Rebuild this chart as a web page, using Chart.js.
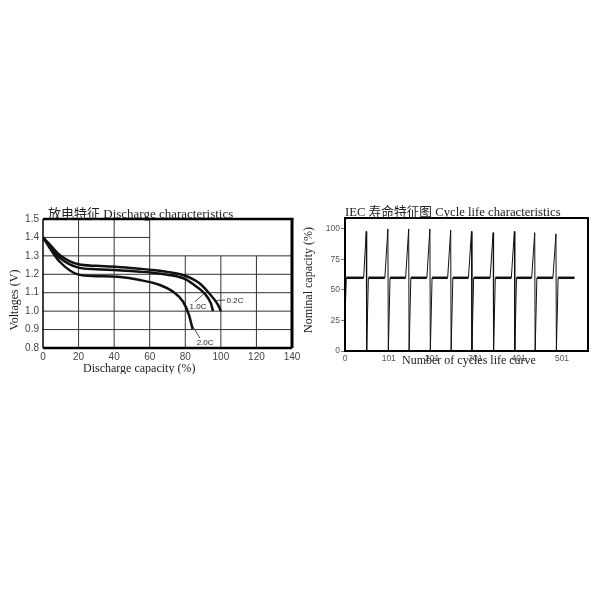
<!DOCTYPE html>
<html>
<head>
<meta charset="utf-8">
<script src="https://cdn.jsdelivr.net/npm/chart.js@4"></script>
<style>
  body { margin: 0; background: #fff; width: 600px; height: 600px; position: relative; overflow: hidden; }
  canvas { position: absolute; }
  #discharge-graph { left: 0; top: 195px; }
  #cycle-graph { left: 300px; top: 195px; }
</style>
</head>
<body>
<canvas id="discharge-graph" width="306" height="179"></canvas>
<canvas id="cycle-graph" width="300" height="185"></canvas>
<script>
// discharge curves (capacity %, voltage V)
const rate02Capacity = [0, 4, 9.4, 20, 30, 42, 54.5, 60, 70, 80, 88, 94, 98.5, 100];
const rate02Voltage = [1.40, 1.36, 1.305, 1.254, 1.246, 1.240, 1.230, 1.225, 1.213, 1.192, 1.151, 1.090, 1.033, 1.00];
const rate10Capacity = [0, 4, 9.4, 20, 30, 42, 54.5, 60, 70, 80, 85, 90.7, 94.4, 95.6];
const rate10Voltage = [1.40, 1.35, 1.29, 1.236, 1.227, 1.222, 1.214, 1.210, 1.198, 1.174, 1.142, 1.097, 1.042, 1.00];
const rate20Capacity = [0, 4, 9.4, 20, 30, 42, 54.5, 65.7, 73.2, 78.8, 82.1, 84.1];
const rate20Voltage = [1.40, 1.34, 1.268, 1.198, 1.190, 1.186, 1.169, 1.142, 1.105, 1.051, 0.979, 0.903];
const rateNames = ['0.2C', '1.0C', '2.0C'];
const capacityTicks = [0, 20, 40, 60, 80, 100, 120, 140];
const voltageTicks = [0.8, 0.9, 1.0, 1.1, 1.2, 1.3, 1.4, 1.5];

// cycle life curve (cycle number, nominal capacity %)
const cycleNumber = [0, 3, 43, 49, 50, 54, 92, 99, 100, 104, 140, 147, 148, 152,
    189, 196, 197, 201, 237, 244, 245, 249, 285, 292, 293, 297, 335, 342, 343, 347,
    384, 391, 392, 396, 431, 438, 439, 443, 480, 487, 488, 492, 530];
const cycleCapacity = [27, 60, 60, 98, 0, 60, 60, 100, 0, 60, 60, 100, 0, 60,
    60, 100, 0, 60, 60, 99, 0, 60, 60, 98, 0, 60, 60, 97, 0, 60,
    60, 98, 0, 60, 60, 97, 0, 60, 60, 96, 0, 60, 60];
const cycleTicks = [0, 101, 201, 301, 401, 501];
const capacityPctTicks = [0, 25, 50, 75, 100];

const serif = '"Liberation Serif", "Noto Sans CJK SC", serif';
const sans = '"Liberation Sans", Arial, sans-serif';

function toPoints(xs, ys) {
    return xs.map((x, i) => ({ x: x, y: ys[i] }));
}

function drawText(ctx, text, x, y, font, color, rotate) {
    ctx.save();
    ctx.font = font;
    ctx.fillStyle = color;
    ctx.textBaseline = 'alphabetic';
    if (rotate) {
        ctx.translate(x, y);
        ctx.rotate(-Math.PI / 2);
        ctx.textAlign = 'center';
        ctx.fillText(text, 0, 0);
    } else {
        ctx.textAlign = 'left';
        ctx.fillText(text, x, y);
    }
    ctx.restore();
}

function line(ctx, x1, y1, x2, y2) {
    ctx.beginPath();
    ctx.moveTo(x1, y1);
    ctx.lineTo(x2, y2);
    ctx.stroke();
}

const dischargeDecor = {
    id: 'dischargeDecor',
    beforeDatasetsDraw(chart) {
        const { ctx, scales: { x, y }, chartArea: a } = chart;
        ctx.save();
        ctx.strokeStyle = '#333';
        ctx.lineWidth = 1;
        // vertical grid: full for 20..60, from 1.3 down for 80..120
        [20, 40, 60].forEach(v => line(ctx, x.getPixelForValue(v), a.top, x.getPixelForValue(v), a.bottom));
        [80, 100, 120].forEach(v => line(ctx, x.getPixelForValue(v), y.getPixelForValue(1.3), x.getPixelForValue(v), a.bottom));
        // horizontal grid
        [0.9, 1.0, 1.1, 1.2, 1.3].forEach(v => line(ctx, a.left, y.getPixelForValue(v), a.right, y.getPixelForValue(v)));
        line(ctx, a.left, y.getPixelForValue(1.4), x.getPixelForValue(60), y.getPixelForValue(1.4));
        ctx.restore();
    },
    afterDraw(chart) {
        const { ctx, scales: { x, y }, chartArea: a } = chart;
        ctx.save();
        ctx.strokeStyle = '#000';
        ctx.lineWidth = 1.5;
        line(ctx, a.left, a.top, a.left, a.bottom);
        ctx.lineWidth = 2.5;
        line(ctx, a.left, a.bottom, a.right, a.bottom);
        line(ctx, a.left, a.top, a.right + 1.5, a.top);
        ctx.lineWidth = 3;
        line(ctx, a.right, a.top, a.right, a.bottom);
        // curve labels with leader lines
        ctx.lineWidth = 0.8;
        ctx.strokeStyle = '#222';
        line(ctx, x.getPixelForValue(97.5), y.getPixelForValue(1.058), x.getPixelForValue(102.5), y.getPixelForValue(1.060));
        line(ctx, x.getPixelForValue(85.4), y.getPixelForValue(1.051), x.getPixelForValue(90.1), y.getPixelForValue(1.091));
        line(ctx, x.getPixelForValue(84.4), y.getPixelForValue(0.915), x.getPixelForValue(88.2), y.getPixelForValue(0.854));
        const lf = '8px ' + sans;
        drawText(ctx, rateNames[0], x.getPixelForValue(103.2), y.getPixelForValue(1.044), lf, '#222');
        drawText(ctx, rateNames[1], x.getPixelForValue(82.4), y.getPixelForValue(1.014), lf, '#222');
        drawText(ctx, rateNames[2], x.getPixelForValue(86.4), y.getPixelForValue(0.817), lf, '#222');
        // titles
        drawText(ctx, '放电特征 Discharge characteristics', 48, 23, '13px ' + serif, '#222');
        drawText(ctx, 'Voltages (V)', 18, 105, '12px ' + serif, '#222', true);
        drawText(ctx, 'Discharge capacity (%)', 83, 177, '12px ' + serif, '#222');
        ctx.restore();
    }
};

const cycleDecor = {
    id: 'cycleDecor',
    afterDraw(chart) {
        const { ctx, chartArea: a } = chart;
        ctx.save();
        ctx.strokeStyle = '#000';
        ctx.lineWidth = 2;
        ctx.strokeRect(a.left, a.top, a.right - a.left, a.bottom - a.top);
        drawText(ctx, 'IEC 寿命特征图 Cycle life characteristics', 45, 21, '12.7px ' + serif, '#222');
        drawText(ctx, 'Nominal capacity (%)', 12, 85, '12px ' + serif, '#222', true);
        drawText(ctx, 'Number of cycles life curve', 102, 169, '12px ' + serif, '#222');
        ctx.restore();
    }
};

function curve(label, xs, ys) {
    return {
        label: label,
        data: toPoints(xs, ys),
        borderColor: '#111',
        borderWidth: 2.5,
        pointRadius: 0,
        fill: false,
        tension: 0.4,
        cubicInterpolationMode: 'monotone'
    };
}

function renderDischargeGraph() {
    const ctx = document.getElementById('discharge-graph').getContext('2d');
    new Chart(ctx, {
        type: 'line',
        data: {
            datasets: [
                curve(rateNames[0], rate02Capacity, rate02Voltage),
                curve(rateNames[1], rate10Capacity, rate10Voltage),
                curve(rateNames[2], rate20Capacity, rate20Voltage)
            ]
        },
        options: {
            responsive: false,
            animation: false,
            layout: { padding: { left: 0, right: 14, top: 24, bottom: 0 } },
            plugins: { legend: { display: false }, tooltip: { enabled: false } },
            scales: {
                x: {
                    type: 'linear', min: 0, max: 140,
                    afterBuildTicks: axis => { axis.ticks = capacityTicks.map(v => ({ value: v })); },
                    afterFit: axis => { axis.height = 26; },
                    grid: { display: false, drawTicks: false },
                    border: { display: false },
                    ticks: { font: { family: sans, size: 10 }, color: '#444', padding: 3, maxRotation: 0 }
                },
                y: {
                    type: 'linear', min: 0.8, max: 1.5,
                    afterBuildTicks: axis => { axis.ticks = voltageTicks.map(v => ({ value: v })); },
                    afterFit: axis => { axis.width = 43; },
                    grid: { display: false, drawTicks: false },
                    border: { display: false },
                    ticks: {
                        font: { family: sans, size: 10 }, color: '#444', padding: 4,
                        callback: v => v.toFixed(1)
                    }
                }
            }
        },
        plugins: [dischargeDecor]
    });
}

function renderCycleGraph() {
    const ctx = document.getElementById('cycle-graph').getContext('2d');
    new Chart(ctx, {
        type: 'line',
        data: {
            datasets: [{
                label: 'Nominal capacity',
                data: toPoints(cycleNumber, cycleCapacity),
                borderColor: '#111',
                borderWidth: 1,
                pointRadius: 0,
                fill: false,
                segment: {
                    borderWidth: c => (c.p0.parsed.y === 60 && c.p1.parsed.y === 60) ? 2.5 : 1
                }
            }]
        },
        options: {
            responsive: false,
            animation: false,
            layout: { padding: { left: 0, right: 12, top: 23, bottom: 0 } },
            plugins: { legend: { display: false }, tooltip: { enabled: false } },
            scales: {
                x: {
                    type: 'linear', min: 0, max: 561,
                    afterBuildTicks: axis => { axis.ticks = cycleTicks.map(v => ({ value: v })); },
                    afterFit: axis => { axis.height = 29; },
                    grid: { display: false, drawTicks: false },
                    border: { display: false },
                    ticks: { font: { family: sans, size: 8.5 }, color: '#555', padding: 3, maxRotation: 0 }
                },
                y: {
                    type: 'linear', min: 0, max: 109,
                    afterBuildTicks: axis => { axis.ticks = capacityPctTicks.map(v => ({ value: v })); },
                    afterFit: axis => { axis.width = 45; },
                    grid: { display: true, drawOnChartArea: false, drawTicks: true, tickLength: 4, color: '#777' },
                    border: { display: false },
                    ticks: { font: { family: sans, size: 8.5 }, color: '#555', padding: 1 }
                }
            }
        },
        plugins: [cycleDecor]
    });
}

window.onload = () => {
    renderDischargeGraph();
    renderCycleGraph();
};
</script>
</body>
</html>
